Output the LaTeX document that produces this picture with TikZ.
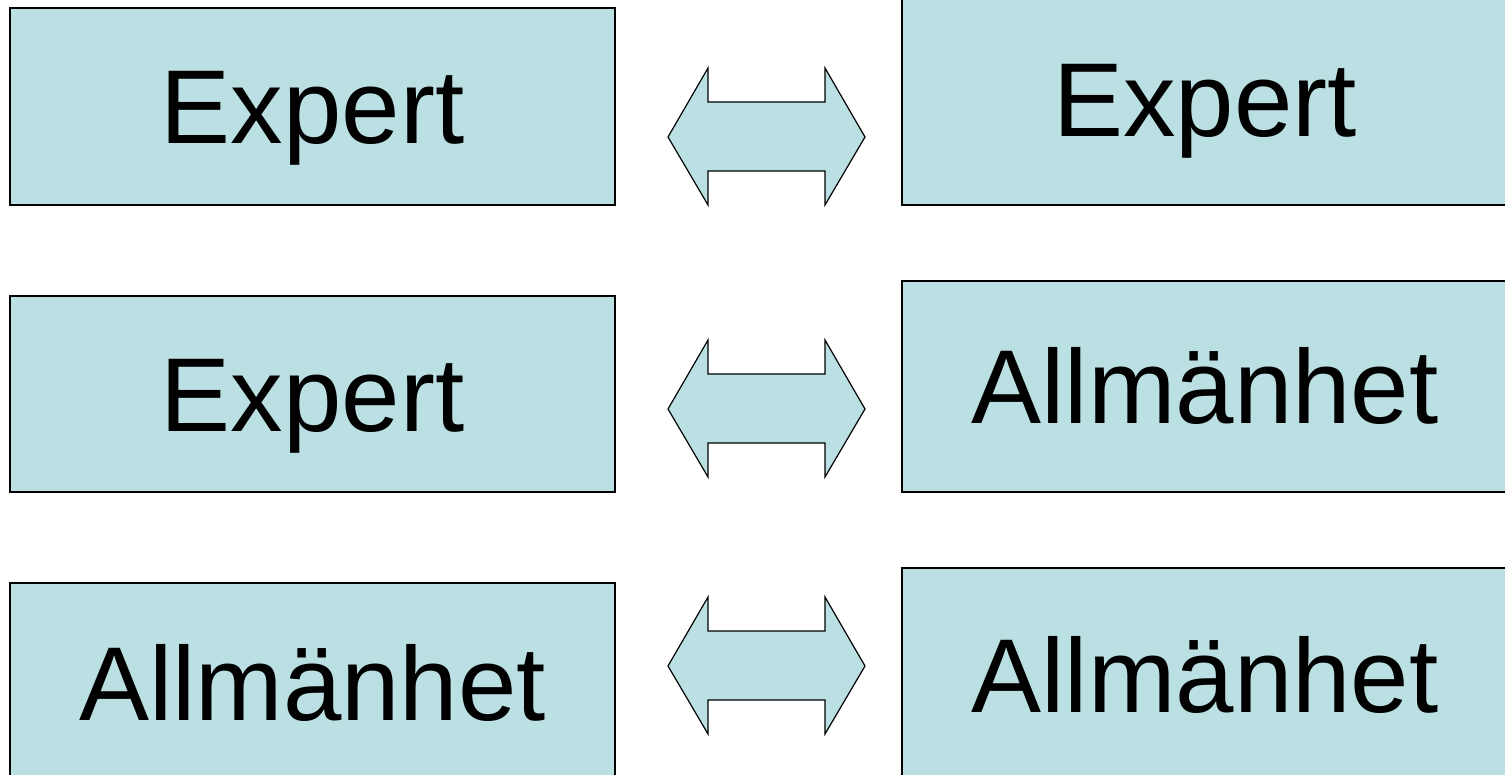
\documentclass[tikz,border=0pt]{standalone}
\usepackage{fontspec}
\setmainfont{Liberation Sans}
\usepackage{tikz}
\definecolor{boxfill}{HTML}{BBE0E3}

\begin{document}
\begin{tikzpicture}[x=1pt,y=-1pt,
    box/.style={draw=black, line width=1.2pt, fill=boxfill, rectangle, inner sep=0pt,
      font=\fontsize{105}{110}\selectfont, text height=75pt, text depth=0pt},
    arrowshape/.style={draw=black, line width=1.2pt, fill=boxfill, line join=miter}]
    \clip (0,0) rectangle (1505,775);

    % left column
    \node[box, minimum width=605pt, minimum height=197pt] (L1) at (312.5,106.5) {Expert};
    \node[box, minimum width=605pt, minimum height=196pt] (L2) at (312.5,394) {Expert};
    \node[box, minimum width=605pt, minimum height=200pt] (L3) at (312.5,683) {Allmänhet};

    % right column
    \node[box, minimum width=606pt, minimum height=211pt] (R1) at (1205,99.5) {Expert};
    \node[box, minimum width=606pt, minimum height=211pt] (R2) at (1205,386.5) {Allmänhet};
    \node[box, minimum width=606pt, minimum height=214pt] (R3) at (1205,675) {Allmänhet};

    % double arrows between the columns
    \foreach \yc in {137,409,666} {
      \draw[arrowshape] (668,\yc) -- (708,\yc-69) -- (708,\yc-35) -- (825,\yc-35)
        -- (825,\yc-69) -- (865,\yc) -- (825,\yc+68) -- (825,\yc+34)
        -- (708,\yc+34) -- (708,\yc+68) -- cycle;
    }
\end{tikzpicture}
\end{document}
